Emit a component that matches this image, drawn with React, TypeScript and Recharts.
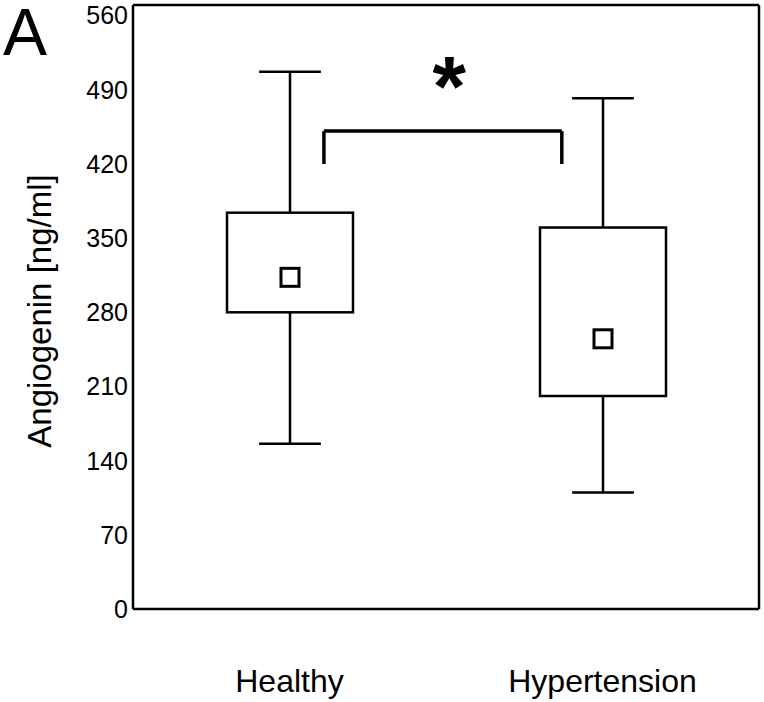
import { ComposedChart, Bar, XAxis, YAxis, ReferenceLine, ReferenceDot, Customized } from 'recharts'

// box plot summary per group
const categories = ['Healthy', 'Hypertension']
const whiskerLow = [156, 110]
const boxLow = [280, 201]
const boxHigh = [374, 360]
const whiskerHigh = [507, 482]
const means = [313, 255]

const yTicks = [0, 70, 140, 210, 280, 350, 420, 490, 560]
const yMax = 570

// x runs 0..2, group i sits at i + 0.5
const xTicks = categories.map((_, i) => i + 0.5)

// significance bracket + star
const bracketX = [0.61, 1.37]
const bracketTop = 451
const bracketFoot = 420
const starX = 1.01
const starY = 504

const data = categories.map((name, i) => ({
  name,
  slot: i + 0.5,
  low: whiskerLow[i],
  q1: boxLow[i],
  q3: boxHigh[i],
  high: whiskerHigh[i],
  mean: means[i],
}))

const FONT = '"Liberation Sans", Arial, sans-serif'

const BoxShape = (props: any) => {
  const { x, y, width, height, payload } = props
  const k = height / (payload.high - payload.low)
  const py = (v: number) => y + (payload.high - v) * k
  const cx = x + width / 2
  const cap = width * 0.245
  const m = 9
  return (
    <g stroke="#000" fill="none" strokeWidth={2.5}>
      <line x1={cx} x2={cx} y1={py(payload.high)} y2={py(payload.q3)} />
      <line x1={cx} x2={cx} y1={py(payload.q1)} y2={py(payload.low)} />
      <line x1={cx - cap} x2={cx + cap} y1={py(payload.high)} y2={py(payload.high)} />
      <line x1={cx - cap} x2={cx + cap} y1={py(payload.low)} y2={py(payload.low)} />
      <rect x={x} y={py(payload.q3)} width={width} height={py(payload.q1) - py(payload.q3)} fill="#fff" />
      <rect x={cx - m} y={py(payload.mean) - m} width={m * 2} height={m * 2} strokeWidth={3} />
    </g>
  )
}

const Titles = () => (
  <g fontFamily={FONT} fill="#000">
    <text x={3} y={55} fontSize={66}>A</text>
    <text x={51} y={311} fontSize={33} textAnchor="middle" transform="rotate(-90 51 311)">
      Angiogenin [ng/ml]
    </text>
  </g>
)

const App = () => {
  return (
    <div style={{ position: 'absolute', left: 0, top: 0, background: '#fff' }}>
      <ComposedChart
        width={764}
        height={702}
        data={data}
        margin={{ top: 5, right: 5, bottom: 0, left: 0 }}
      >
        <XAxis
          dataKey="slot"
          type="number"
          domain={[0, 2]}
          ticks={xTicks}
          interval={0}
          tickFormatter={(v: number) => categories[Math.floor(v)]}
          height={93}
          axisLine={{ stroke: '#000', strokeWidth: 2.5 }}
          tickLine={false}
          tickSize={0}
          tickMargin={60}
          tick={{ fontSize: 32, fill: '#000', fontFamily: FONT }}
        />
        <YAxis
          width={133}
          domain={[0, yMax]}
          ticks={yTicks}
          interval={0}
          axisLine={{ stroke: '#000', strokeWidth: 2.5 }}
          tickLine={false}
          tickSize={0}
          tickMargin={5}
          tick={{ fontSize: 25, fill: '#000', fontFamily: FONT }}
        />
        <ReferenceLine y={yMax} stroke="#000" strokeWidth={2.5} />
        <ReferenceLine x={2} stroke="#000" strokeWidth={2.5} />
        <Bar
          dataKey={(d: any) => [d.low, d.high]}
          fill="none"
          barSize={126}
          shape={BoxShape}
          isAnimationActive={false}
        />
        <ReferenceLine
          segment={[{ x: bracketX[0], y: bracketTop }, { x: bracketX[1], y: bracketTop }]}
          stroke="#000"
          strokeWidth={3.5}
        />
        <ReferenceLine
          segment={[{ x: bracketX[0], y: bracketTop }, { x: bracketX[0], y: bracketFoot }]}
          stroke="#000"
          strokeWidth={3.5}
        />
        <ReferenceLine
          segment={[{ x: bracketX[1], y: bracketTop }, { x: bracketX[1], y: bracketFoot }]}
          stroke="#000"
          strokeWidth={3.5}
        />
        <ReferenceDot
          x={starX}
          y={starY}
          r={0}
          shape={(p: any) => (
            <text x={p.cx} y={p.cy + 41} textAnchor="middle" fontSize={86} fontWeight="bold" fontFamily={FONT} fill="#000">
              *
            </text>
          )}
        />
        <Customized component={Titles} />
      </ComposedChart>
    </div>
  )
}

export default App
